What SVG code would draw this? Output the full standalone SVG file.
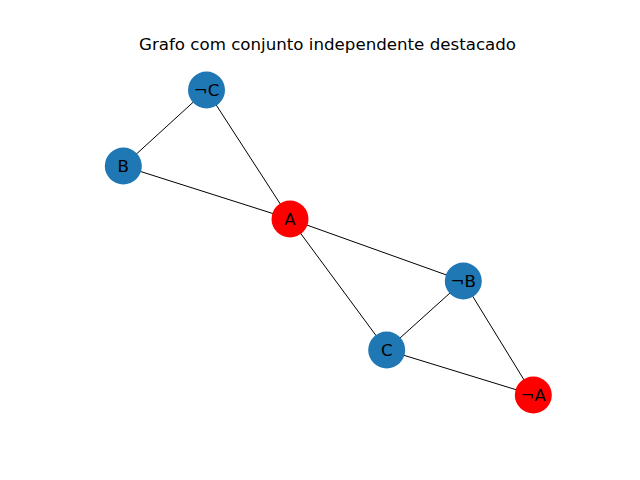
<svg xmlns="http://www.w3.org/2000/svg" width="640" height="480" viewBox="0 0 640 480">
  <style>
    .edge { stroke: #000; stroke-width: 1; fill: none; }
    .node circle { stroke: none; }
    .blue circle { fill: #1f77b4; }
    .red circle { fill: #ff0000; }
    text { font-family: "DejaVu Sans", sans-serif; font-size: 16.67px; fill: #000; }
    .label { text-anchor: middle; dominant-baseline: central; }
  </style>
  <rect width="640" height="480" fill="#fff"/>
  <text x="327.5" y="50" text-anchor="middle">Grafo com conjunto independente destacado</text>
  <g id="edges">
    <line class="edge" x1="206.5" y1="90" x2="123.3" y2="166"/>
    <line class="edge" x1="206.5" y1="90" x2="290" y2="219"/>
    <line class="edge" x1="123.3" y1="166" x2="290" y2="219"/>
    <line class="edge" x1="290" y1="219" x2="463.3" y2="281"/>
    <line class="edge" x1="290" y1="219" x2="386.7" y2="350"/>
    <line class="edge" x1="463.3" y1="281" x2="386.7" y2="350"/>
    <line class="edge" x1="463.3" y1="281" x2="533.3" y2="395"/>
    <line class="edge" x1="386.7" y1="350" x2="533.3" y2="395"/>
  </g>
  <g id="node-notC" class="node blue"><circle cx="206.5" cy="90" r="18.5"/><text class="label" x="206.5" y="90">¬C</text></g>
  <g id="node-B" class="node blue"><circle cx="123.3" cy="166" r="18.5"/><text class="label" x="123.3" y="166">B</text></g>
  <g id="node-A" class="node red"><circle cx="290" cy="219" r="18.5"/><text class="label" x="290" y="219">A</text></g>
  <g id="node-notB" class="node blue"><circle cx="463.3" cy="281" r="18.5"/><text class="label" x="463.3" y="281">¬B</text></g>
  <g id="node-C" class="node blue"><circle cx="386.7" cy="350" r="18.5"/><text class="label" x="386.7" y="350">C</text></g>
  <g id="node-notA" class="node red"><circle cx="533.3" cy="395" r="18.5"/><text class="label" x="533.3" y="395">¬A</text></g>
</svg>
